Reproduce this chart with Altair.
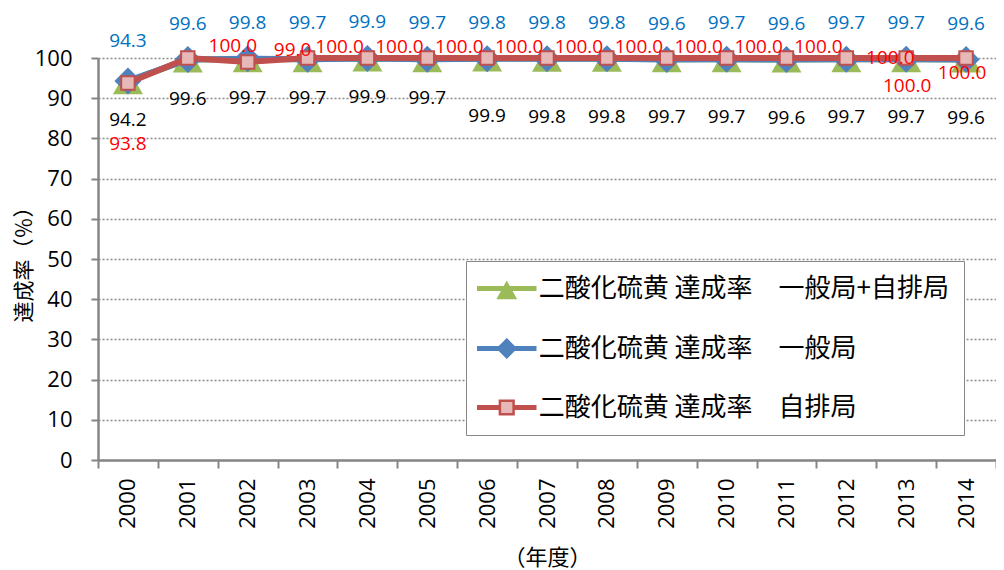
import altair as alt
import pandas as pd

years = ["2000", "2001", "2002", "2003", "2004", "2005", "2006", "2007",
         "2008", "2009", "2010", "2011", "2012", "2013", "2014"]
series_keys = ["total", "general", "roadside"]
series_names = ["二酸化硫黄 達成率\u3000一般局+自排局",
                "二酸化硫黄 達成率\u3000一般局",
                "二酸化硫黄 達成率\u3000自排局"]
total_rate = [94.2, 99.6, 99.7, 99.7, 99.9, 99.7, 99.9, 99.8,
              99.8, 99.7, 99.7, 99.6, 99.7, 99.7, 99.6]
general_rate = [94.3, 99.6, 99.8, 99.7, 99.9, 99.7, 99.8, 99.8,
                99.8, 99.6, 99.7, 99.6, 99.7, 99.7, 99.6]
roadside_rate = [93.8, 100.0, 99.0, 100.0, 100.0, 100.0, 100.0, 100.0,
                 100.0, 100.0, 100.0, 100.0, 100.0, 100.0, 100.0]
y_ticks = [0, 10, 20, 30, 40, 50, 60, 70, 80, 90, 100]

rows = []
for key, name, vals in zip(series_keys, series_names,
                           [total_rate, general_rate, roadside_rate]):
    for yr, v in zip(years, vals):
        rows.append({"year": yr, "key": key, "name": name, "value": v})
df = pd.DataFrame(rows)

GREEN = "#9BBB59"
BLUE = "#4F81BD"
RED = "#C0504D"
PINK = "#E6B9B8"
LABEL_BLUE = "#0070C0"
LABEL_RED = "#FF0000"
GRAY = "#868686"
NUM_FONT = "Open Sans"
CJK_FONT = "Noto Sans CJK JP"

x_enc = alt.X(
    "year:O", sort=years,
    scale=alt.Scale(type="band", paddingInner=0, paddingOuter=0),
    axis=alt.Axis(title="（年度）", labelAngle=-90, labelFontSize=22,
                  labelPadding=10, tickSize=8, tickBand="extent", grid=False,
                  titleFontSize=22, titlePadding=19),
)
y_enc = alt.Y(
    "value:Q", scale=alt.Scale(domain=[0, 100], nice=False),
    axis=alt.Axis(title="達成率（％）", values=y_ticks, labelFontSize=22,
                  labelPadding=19, tickSize=7, grid=True, gridColor="#8c8c8c",
                  gridDash=[2, 2], gridWidth=1.3, titleFontSize=21,
                  titlePadding=0),
)

base = alt.Chart(df).encode(x=x_enc, y=y_enc)


def series(key):
    return base.transform_filter(alt.datum.key == key)


green_line = series("total").mark_line(color=GREEN, strokeWidth=6)
green_pts = series("total").mark_point(shape="triangle-up", size=900,
                                       filled=True, color=GREEN, opacity=1)
blue_line = series("general").mark_line(color=BLUE, strokeWidth=6)
blue_pts = series("general").mark_point(shape="diamond", size=729,
                                        filled=True, color=BLUE, opacity=1)
red_line = series("roadside").mark_line(color=RED, strokeWidth=6)
red_pts = series("roadside").mark_point(shape="square", size=180, filled=True,
                                        fill=PINK, stroke=RED, strokeWidth=2,
                                        opacity=1)


def labels(key, color, expr, dx, dy):
    return (series(key).transform_filter(expr)
            .mark_text(color=color, font=NUM_FONT, fontSize=19, dx=dx, dy=dy,
                       baseline="middle", align="center")
            .encode(text=alt.Text("value:Q", format=".1f")))


yr = "toNumber(datum.year)"
label_layers = [
    labels("total", "black", f"{yr} <= 2005", 0, 39),
    labels("total", "black", f"{yr} > 2005", 0, 58),
    labels("general", LABEL_BLUE, f"{yr} == 2000", 0, -40),
    labels("general", LABEL_BLUE, f"{yr} > 2000", 0, -36),
    labels("roadside", LABEL_RED, f"{yr} == 2000", 0, 61),
    labels("roadside", LABEL_RED, f"{yr} > 2000 && {yr} <= 2002", 45, -12),
    labels("roadside", LABEL_RED, f"{yr} > 2002 && {yr} <= 2011", 32, -11),
    labels("roadside", LABEL_RED, f"{yr} == 2012", 44, 0),
    labels("roadside", LABEL_RED, f"{yr} == 2013", 1, 28),
    labels("roadside", LABEL_RED, f"{yr} == 2014", -4, 15),
]

# legend symbols: line segment + marker (unit = 12 px)
legend_paths = [
    "M-2.375,-0.1H2.375V0.1H-2.375Z M0,-0.46L0.69,0.79H-0.69Z",
    "M-2.375,-0.1H2.375V0.1H-2.375Z M0,-0.73L0.73,0L0,0.73L-0.73,0Z",
    "M-2.375,-0.1H-0.57V0.1H-2.375Z M0.57,-0.1H2.375V0.1H0.57Z "
    "M-0.57,-0.57H0.57V0.57H-0.57Z",
]
leg = alt.Legend(title=None, orient="none", legendX=368, legendY=203,
                 padding=14, strokeColor="#878787", fillColor="white",
                 labelFont=CJK_FONT, labelFontSize=26,
                 labelLimit=1000, labelOffset=18.5, symbolOffset=13.25,
                 symbolSize=576, symbolStrokeWidth=2.5, rowPadding=31,
                 labelColor="black")
legend_layer = (
    alt.Chart(df).transform_filter("datum.value < 0")
    .mark_point(filled=True, size=576, strokeWidth=2.5, opacity=1)
    .encode(
        x=x_enc, y=y_enc,
        fill=alt.Fill("name:N", scale=alt.Scale(domain=series_names,
                                                range=[GREEN, BLUE, PINK]),
                      legend=leg),
        stroke=alt.Stroke("name:N", scale=alt.Scale(domain=series_names,
                                                    range=[GREEN, BLUE, RED]),
                          legend=leg),
        shape=alt.Shape("name:N", scale=alt.Scale(domain=series_names,
                                                  range=legend_paths),
                        legend=leg),
    )
)

chart = (
    alt.layer(green_line, green_pts, blue_line, blue_pts, red_line, red_pts,
              legend_layer, *label_layers)
    .properties(width=898, height=402,
                padding={"left": 90, "top": 50, "right": 0, "bottom": 112},
                autosize=alt.AutoSizeParams(type="none"))
    .configure_view(stroke=None)
    .configure_axis(domainColor=GRAY, domainWidth=2.5, tickColor=GRAY,
                    tickWidth=2, labelColor="black", titleColor="black",
                    labelFont=NUM_FONT, titleFont=CJK_FONT,
                    titleFontWeight="normal")
)

chart.save("out.html", embed_options={"renderer": "svg", "actions": False})
